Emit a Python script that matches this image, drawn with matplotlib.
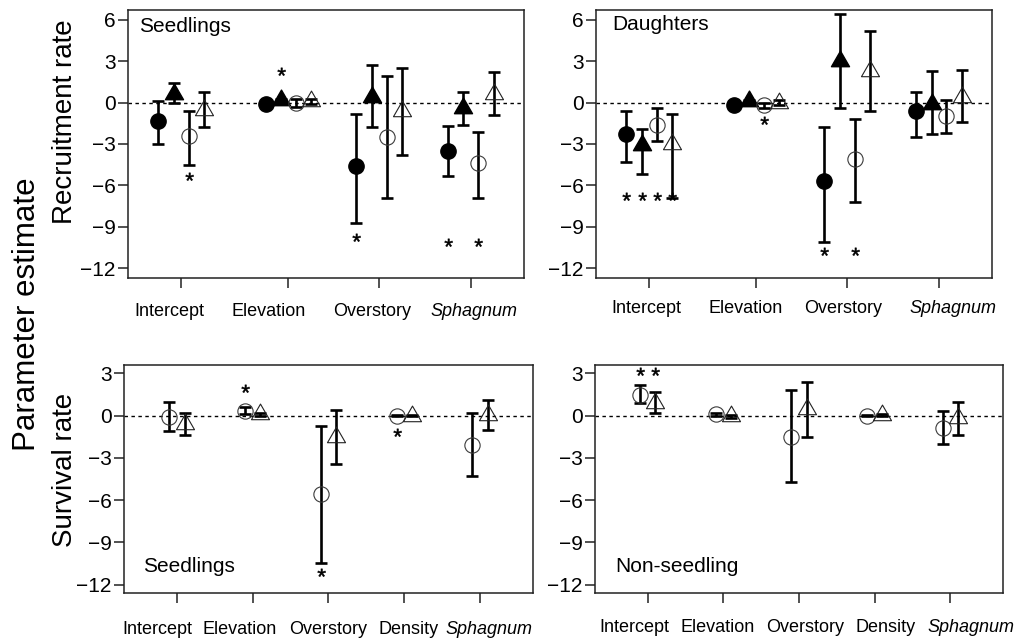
import numpy as np
import matplotlib
matplotlib.use("Agg")
import matplotlib.pyplot as plt
from matplotlib.path import Path
from matplotlib.textpath import TextPath
from matplotlib.font_manager import FontProperties

plt.rcParams["font.family"] = ["Liberation Sans", "DejaVu Sans"]

# ---------------- data ----------------
top_categories = ["Intercept", "Elevation", "Overstory", "Sphagnum"]
bottom_categories = ["Intercept", "Elevation", "Overstory", "Density", "Sphagnum"]

# Recruitment rate, seedlings (estimate, lower, upper) for four series
seed_rec_fc = [-1.3, -0.1, -4.6, -3.5]
seed_rec_fc_lo = [-3.0, -0.2, -8.7, -5.3]
seed_rec_fc_hi = [0.1, 0.0, -0.8, -1.7]
seed_rec_ft = [0.65, 0.2, 0.4, -0.4]
seed_rec_ft_lo = [0.0, 0.1, -1.8, -1.6]
seed_rec_ft_hi = [1.4, 0.3, 2.7, 0.8]
seed_rec_oc = [-2.4, 0.0, -2.5, -4.4]
seed_rec_oc_lo = [-4.5, -0.3, -6.9, -6.9]
seed_rec_oc_hi = [-0.6, 0.3, 1.9, -2.1]
seed_rec_ot = [-0.5, 0.1, -0.6, 0.6]
seed_rec_ot_lo = [-1.8, -0.1, -3.8, -0.9]
seed_rec_ot_hi = [0.8, 0.3, 2.5, 2.2]
# significance marks: (category index, series index, height)
seed_rec_stars = [(0, 2, -5.6), (1, 1, 2.0), (2, 0, -10.0), (3, 0, -10.4), (3, 2, -10.4)]

# Recruitment rate, daughters
dau_rec_fc = [-2.3, -0.2, -5.7, -0.6]
dau_rec_fc_lo = [-4.3, -0.3, -10.1, -2.5]
dau_rec_fc_hi = [-0.6, -0.1, -1.8, 0.8]
dau_rec_ft = [-3.1, 0.1, 3.0, -0.1]
dau_rec_ft_lo = [-5.2, 0.0, -0.4, -2.3]
dau_rec_ft_hi = [-1.9, 0.2, 6.4, 2.3]
dau_rec_oc = [-1.6, -0.2, -4.1, -1.0]
dau_rec_oc_lo = [-2.8, -0.4, -7.2, -2.2]
dau_rec_oc_hi = [-0.4, 0.0, -1.2, 0.2]
dau_rec_ot = [-3.0, 0.0, 2.3, 0.4]
dau_rec_ot_lo = [-6.9, -0.2, -0.6, -1.4]
dau_rec_ot_hi = [-0.8, 0.2, 5.2, 2.4]
dau_rec_stars = [(0, 0, -7.05), (0, 1, -7.05), (0, 2, -7.05), (0, 3, -7.05),
                 (1, 2, -1.55), (2, 0, -11.05), (2, 2, -11.05)]

# Survival rate, seedlings (two series)
seed_sur_oc = [-0.1, 0.35, -5.6, 0.0, -2.1]
seed_sur_oc_lo = [-1.1, 0.1, -10.5, -0.05, -4.3]
seed_sur_oc_hi = [1.0, 0.6, -0.7, 0.05, 0.2]
seed_sur_ot = [-0.6, 0.1, -1.5, 0.0, 0.05]
seed_sur_ot_lo = [-1.4, 0.0, -3.4, -0.05, -1.0]
seed_sur_ot_hi = [0.2, 0.2, 0.4, 0.05, 1.1]
seed_sur_stars = [(1, 0, 1.7), (2, 0, -11.4), (3, 0, -1.45)]

# Survival rate, non-seedlings
non_sur_oc = [1.5, 0.1, -1.5, 0.0, -0.85]
non_sur_oc_lo = [0.9, 0.0, -4.7, -0.05, -2.0]
non_sur_oc_hi = [2.2, 0.2, 1.8, 0.05, 0.35]
non_sur_ot = [0.9, -0.05, 0.5, 0.05, -0.15]
non_sur_ot_lo = [0.2, -0.15, -1.5, 0.0, -1.4]
non_sur_ot_hi = [1.7, 0.05, 2.4, 0.1, 0.95]
non_sur_stars = [(0, 0, 2.9), (0, 1, 2.9)]

top_yticks = [6, 3, 0, -3, -6, -9, -12]
bottom_yticks = [3, 0, -3, -6, -9, -12]

# ---------------- layout ----------------
top_centers = [1.0, 2.17, 3.16, 4.16]
top_xlim = (0.42, 4.74)
top_offsets = [-0.25, -0.08, 0.08, 0.25]
top_label_x = {"Seedlings": [0.87, 1.95, 3.08, 4.19],
               "Daughters": [0.97, 2.05, 3.12, 4.31]}

bottom_centers = [1, 2, 3, 4, 5]
bottom_xlim = (0.3, 5.7)
bottom_offsets = [-0.1, 0.1]
bottom_label_x = {"Seedlings": [0.74, 1.83, 2.99, 4.06, 5.12],
                  "Non-seedling": [0.82, 1.92, 3.08, 4.14, 5.27]}

# triangle with its centroid on the data point
tri_marker = Path([(0, 1), (-0.866, -0.5), (0.866, -0.5), (0, 1)],
                  [Path.MOVETO, Path.LINETO, Path.LINETO, Path.CLOSEPOLY])

# asterisk glyph centred on its ink
_tp = TextPath((0, 0), "*", prop=FontProperties(family="Liberation Sans"), size=10)
_v = _tp.vertices.copy()
_c = (_v.min(axis=0) + _v.max(axis=0)) / 2
star_marker = Path(_v - _c, _tp.codes)

styles = {
    "fc": dict(marker="o", ms=11, mfc="black", mec="black", mew=1.0),
    "ft": dict(marker=tri_marker, ms=15, mfc="black", mec="black", mew=1.0),
    "oc": dict(marker="o", ms=11, mfc="none", mec="#3a3a3a", mew=0.8),
    "ot": dict(marker=tri_marker, ms=15, mfc="none", mec="#222222", mew=0.8),
}

W, H = 1018, 641
fig = plt.figure(figsize=(W / 100, H / 100), dpi=100)


def px_axes(x0, y0, x1, y1):
    return fig.add_axes([x0 / W, 1 - y1 / H, (x1 - x0) / W, (y1 - y0) / H])


def draw_panel(ax, centers, offsets, series, stars, xlim, ylim, yticks,
               categories, label_x, label_y, title, title_xy):
    ax.axhline(0, color="black", lw=1.0, ls=(0, (2.5, 2.5)), zorder=1)
    for si, (key, est, lo, hi) in enumerate(series):
        xs = np.array(centers) + offsets[si]
        est = np.array(est)
        yerr = np.vstack([est - np.array(lo), np.array(hi) - est])
        ax.errorbar(xs, est, yerr=yerr, fmt="none", ecolor="black",
                    elinewidth=1.9, capsize=4.5, capthick=1.9, zorder=2)
        ax.plot(xs, est, ls="none", zorder=3, **styles[key])
    for gi, si, yv in stars:
        ax.plot(centers[gi] + offsets[si], yv, ls="none", marker=star_marker,
                ms=11, mfc="black", mec="black", mew=0.4, zorder=4)
    ax.set_xlim(*xlim)
    ax.set_ylim(*ylim)
    ax.set_yticks(yticks)
    ax.set_yticklabels([str(t).replace("-", "\u2212") for t in yticks])
    ax.set_xticks(centers)
    ax.set_xticklabels([])
    ax.tick_params(direction="out", length=7, width=1.1, labelsize=15,
                   pad=2, color="#222222")
    for sp in ax.spines.values():
        sp.set_linewidth(1.1)
        sp.set_color("#222222")
    for cat, lx in zip(categories, label_x):
        ax.text(lx, label_y, cat, transform=ax.get_xaxis_transform(),
                ha="center", va="center", fontsize=13,
                fontstyle="italic" if cat == "Sphagnum" else "normal",
                clip_on=False)
    ax.text(title_xy[0], title_xy[1], title, transform=ax.transAxes,
            ha="left", va="center", fontsize=15)


ax_tl = px_axes(128, 10, 524, 278)
ax_tr = px_axes(596, 10, 992, 278)
ax_bl = px_axes(124, 365, 533, 593)
ax_br = px_axes(595, 365, 1003, 593)

top_ylim = (-12.72, 6.72)
bottom_ylim = (-12.6, 3.6)

draw_panel(ax_tl, top_centers, top_offsets,
           [("fc", seed_rec_fc, seed_rec_fc_lo, seed_rec_fc_hi),
            ("ft", seed_rec_ft, seed_rec_ft_lo, seed_rec_ft_hi),
            ("oc", seed_rec_oc, seed_rec_oc_lo, seed_rec_oc_hi),
            ("ot", seed_rec_ot, seed_rec_ot_lo, seed_rec_ot_hi)],
           seed_rec_stars, top_xlim, top_ylim, top_yticks, top_categories,
           top_label_x["Seedlings"], -0.125, "Seedlings", (0.028, 0.94))

draw_panel(ax_tr, top_centers, top_offsets,
           [("fc", dau_rec_fc, dau_rec_fc_lo, dau_rec_fc_hi),
            ("ft", dau_rec_ft, dau_rec_ft_lo, dau_rec_ft_hi),
            ("oc", dau_rec_oc, dau_rec_oc_lo, dau_rec_oc_hi),
            ("ot", dau_rec_ot, dau_rec_ot_lo, dau_rec_ot_hi)],
           dau_rec_stars, top_xlim, top_ylim, top_yticks, top_categories,
           top_label_x["Daughters"], -0.115, "Daughters", (0.04, 0.945))

draw_panel(ax_bl, bottom_centers, bottom_offsets,
           [("oc", seed_sur_oc, seed_sur_oc_lo, seed_sur_oc_hi),
            ("ot", seed_sur_ot, seed_sur_ot_lo, seed_sur_ot_hi)],
           seed_sur_stars, bottom_xlim, bottom_ylim, bottom_yticks,
           bottom_categories, bottom_label_x["Seedlings"], -0.16,
           "Seedlings", (0.047, 0.118))

draw_panel(ax_br, bottom_centers, bottom_offsets,
           [("oc", non_sur_oc, non_sur_oc_lo, non_sur_oc_hi),
            ("ot", non_sur_ot, non_sur_ot_lo, non_sur_ot_hi)],
           non_sur_stars, bottom_xlim, bottom_ylim, bottom_yticks,
           bottom_categories, bottom_label_x["Non-seedling"], -0.15,
           "Non-seedling", (0.049, 0.118))

# axis titles
fig.text(65 / W, 1 - 122 / H, "Recruitment rate", rotation=90,
         ha="center", va="center", fontsize=20)
fig.text(65 / W, 1 - 470 / H, "Survival rate", rotation=90,
         ha="center", va="center", fontsize=20)
fig.text(27 / W, 1 - 314 / H, "Parameter estimate", rotation=90,
         ha="center", va="center", fontsize=22.5)

fig.savefig("out.png", dpi=100)
